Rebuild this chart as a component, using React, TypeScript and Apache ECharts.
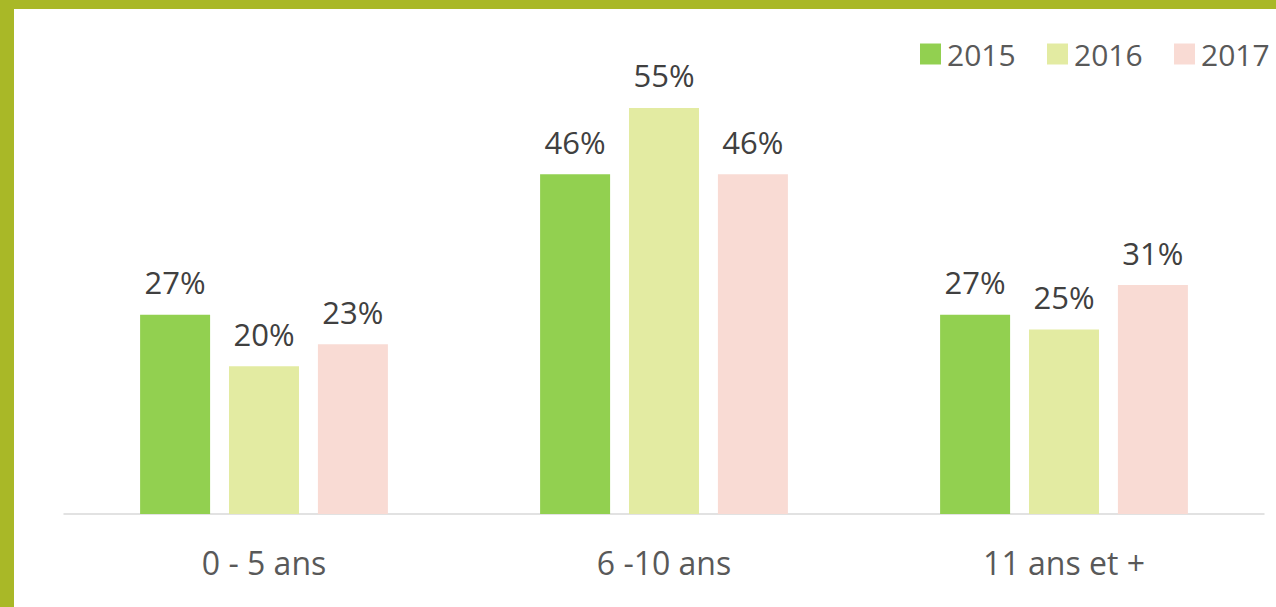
import React, { useEffect, useRef } from "react";
import * as echarts from "echarts";

const categories = ["0 - 5 ans", "6 -10 ans", "11 ans et +"];
const seriesNames = ["2015", "2016", "2017"];
const values2015 = [27, 46, 27];
const values2016 = [20, 55, 25];
const values2017 = [23, 46, 31];
const colors = ["#92D050", "#E3EBA2", "#F9DBD4"];

export default function App() {
  const ref = useRef<HTMLDivElement>(null);
  useEffect(() => {
    document.body.style.margin = "0";
    const chart = echarts.init(ref.current!, undefined, { renderer: "svg" });
    const data = [values2015, values2016, values2017];
    const legendLefts = [915, 1042, 1169];
    chart.setOption({
      animation: false,
      backgroundColor: "#ffffff",
      grid: { left: 64, right: 12, top: 71, bottom: 93, containLabel: false },
      legend: seriesNames.map((n, i) => ({
        data: [n],
        left: legendLefts[i],
        top: 34,
        itemWidth: 21,
        itemHeight: 21,
        icon: "rect",
        itemGap: 10,
        textStyle: { fontFamily: "Open Sans", fontSize: 30, color: "#595959", padding: [4, 0, 0, 1] },
      })),
      xAxis: {
        type: "category",
        data: categories,
        axisLine: { show: true, lineStyle: { color: "#D9D9D9", width: 1.5 } },
        axisTick: { show: false },
        axisLabel: { fontFamily: "Open Sans", fontSize: 32, color: "#595959", margin: 32 },
      },
      yAxis: { type: "value", min: 0, max: 60, show: false, splitLine: { show: false } },
      series: seriesNames.map((n, i) => ({
        name: n,
        type: "bar",
        data: data[i],
        barWidth: 70,
        barGap: "27%",
        barCategoryGap: "38%",
        itemStyle: { color: colors[i] },
        label: {
          show: true,
          position: "top",
          distance: 17,
          formatter: "{c}%",
          fontFamily: "Open Sans",
          fontSize: 31,
          color: "#404040",
        },
      })),
      graphic: [
        { type: "rect", shape: { x: 0, y: 0, width: 1276, height: 9 }, style: { fill: "#A9B827" }, z: 100 },
        { type: "rect", shape: { x: 0, y: 0, width: 14, height: 607 }, style: { fill: "#A9B827" }, z: 100 },
      ],
    });
    return () => chart.dispose();
  }, []);
  return <div ref={ref} style={{ position: "absolute", left: 0, top: 0, width: 1276, height: 607 }} />;
}
